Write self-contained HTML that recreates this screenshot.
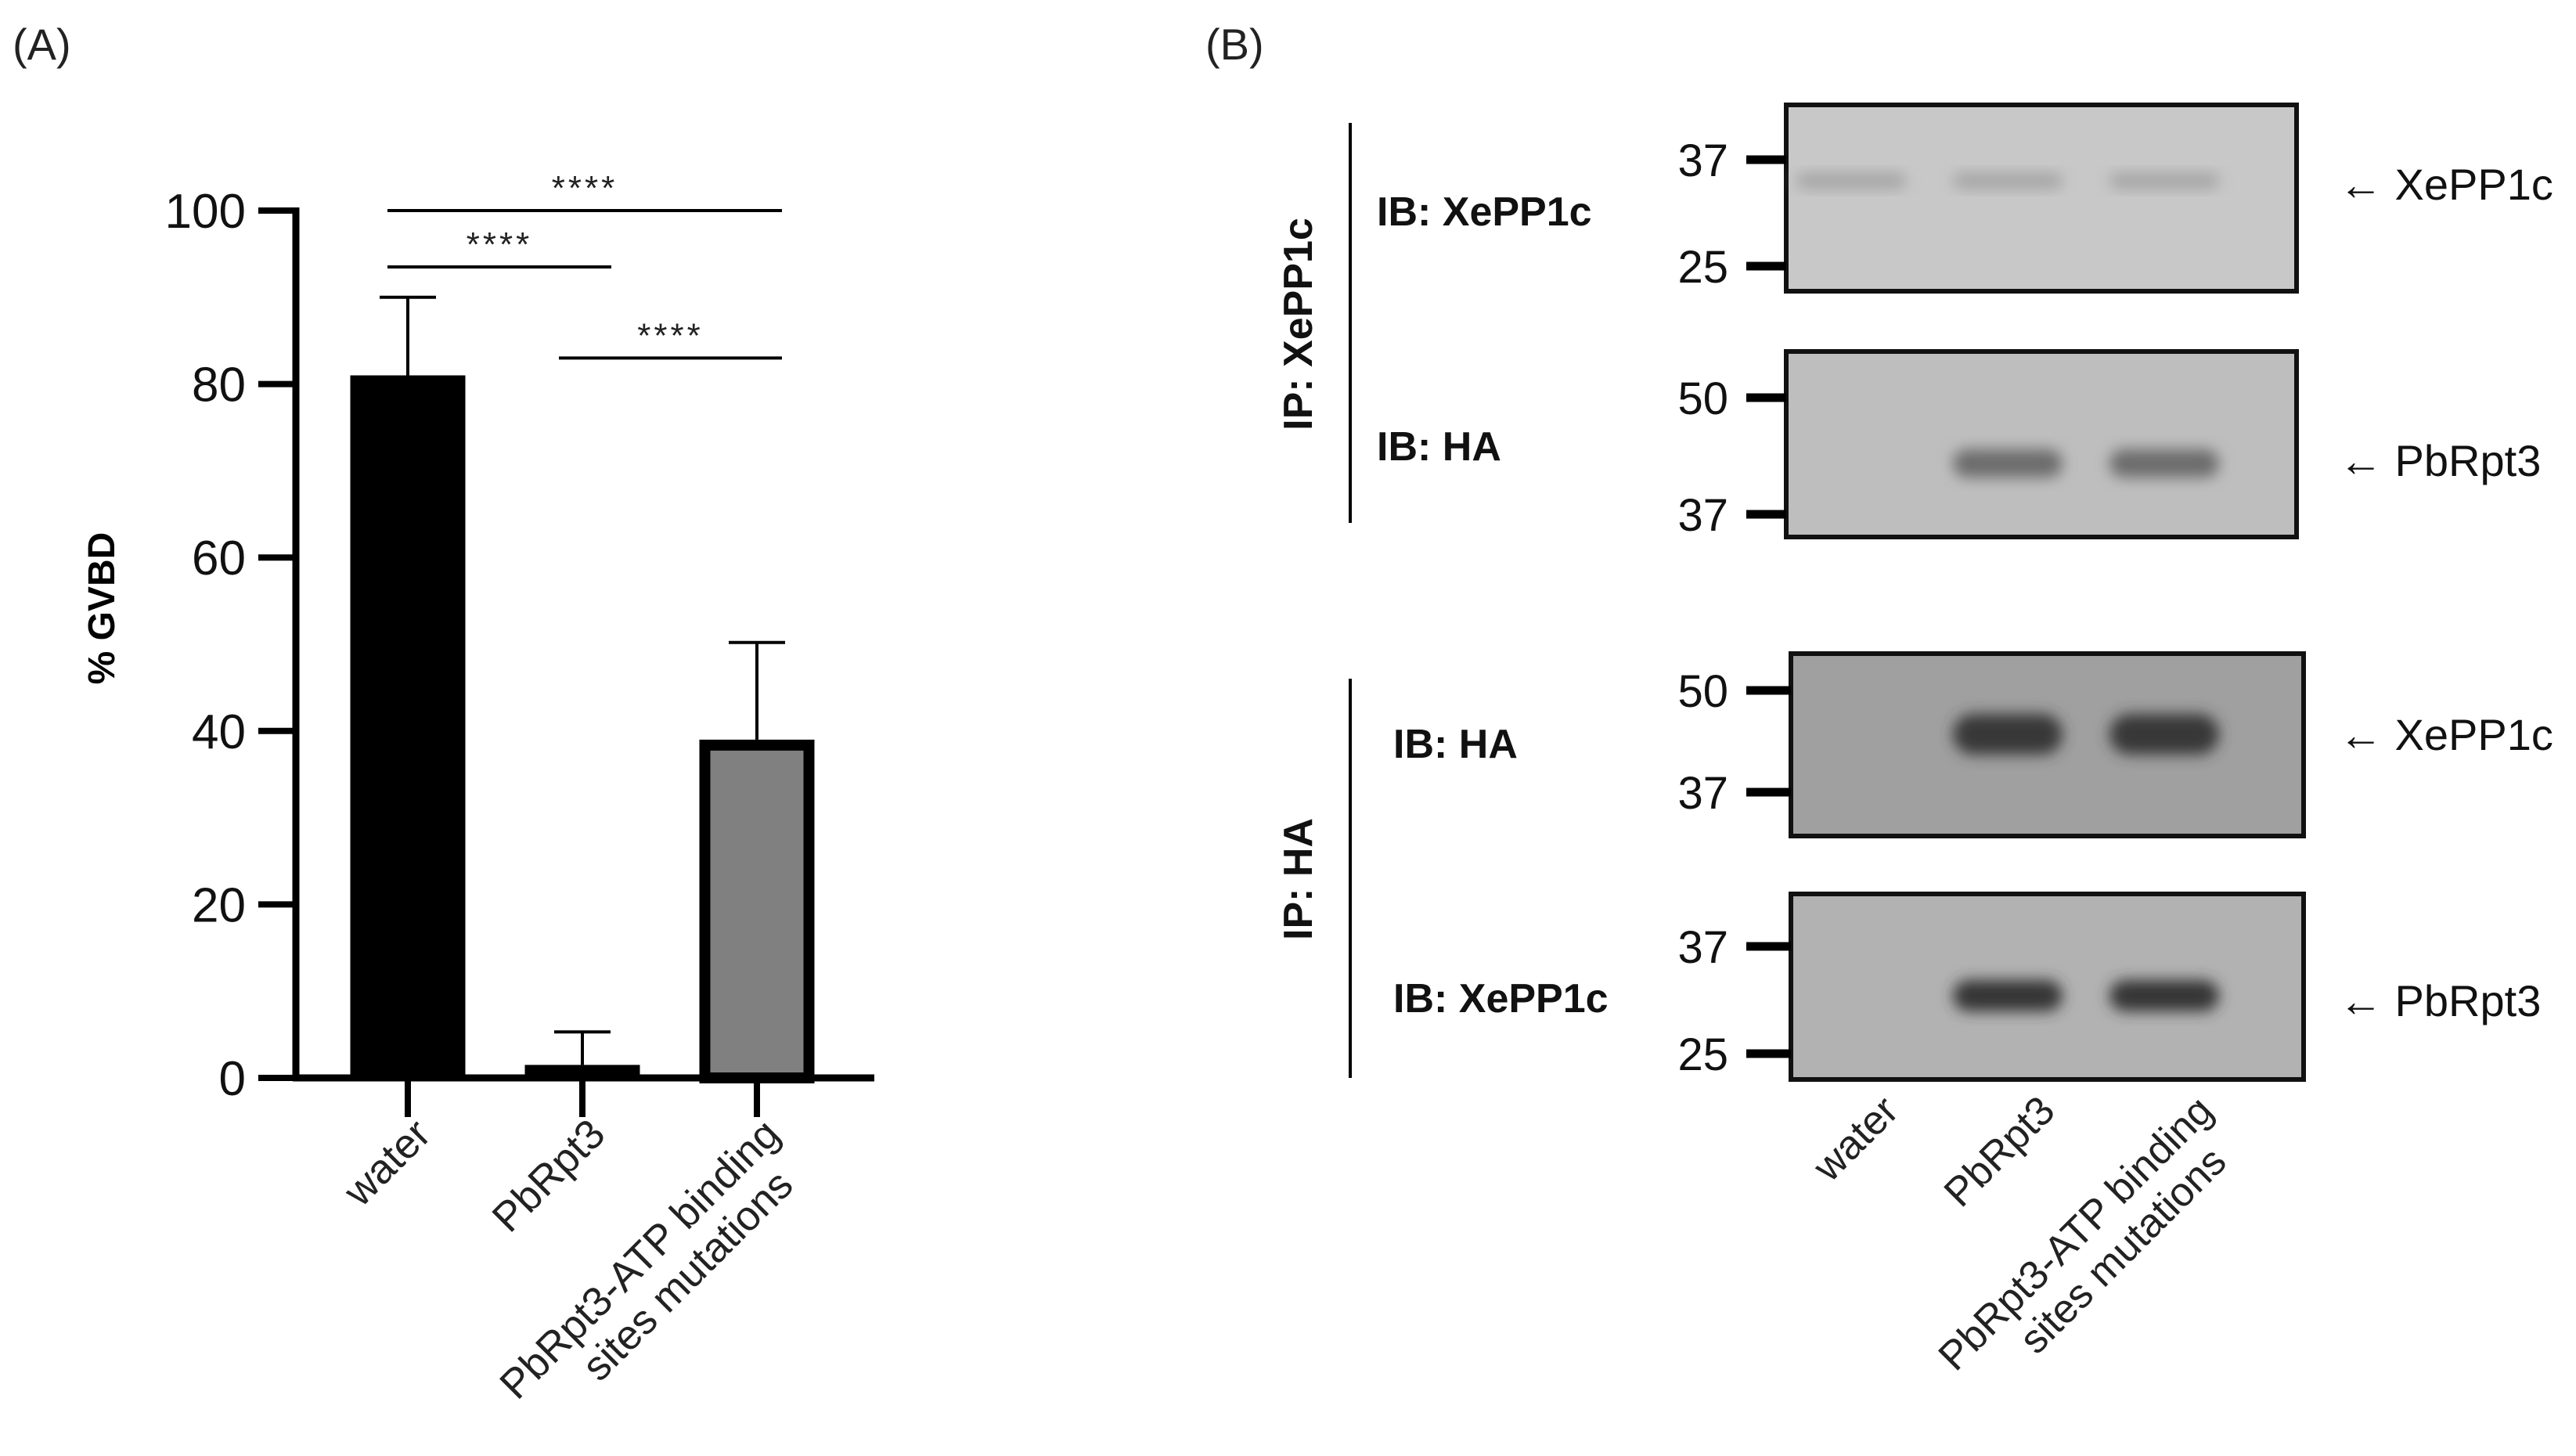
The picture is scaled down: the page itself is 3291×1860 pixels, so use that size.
<!DOCTYPE html>
<html><head><meta charset="utf-8"><style>
html,body{margin:0;padding:0;background:#fff;width:3291px;height:1860px;overflow:hidden}
svg{display:block;font-family:"Liberation Sans","DejaVu Sans",sans-serif}
</style></head><body>
<svg id="fig" width="3291" height="1860" viewBox="0 0 3291 1860">
<defs>
<filter id="blur" x="-20%" y="-50%" width="140%" height="200%"><feGaussianBlur stdDeviation="9"/></filter>
</defs>
<text x="16" y="76" font-size="56" fill="#222">(A)</text>
<text x="1540" y="76" font-size="56" fill="#222">(B)</text>
<g id="chart"></g>
<g id="blots"></g>
</svg>
<script>
const categories = ["water", "PbRpt3", "PbRpt3-ATP binding|sites mutations"];
const means = [81, 1.5, 39];
const errors = [9, 3.8, 11.2];
const yTicks = [0, 20, 40, 60, 80, 100];
const sigFrom = [0, 0, 1];
const sigTo = [2, 1, 2];
const sigHeights = [100, 93.5, 83];
const sigLabels = ["****", "****", "****"];

const NS = "http://www.w3.org/2000/svg";
function el(tag, attrs, parent, txt) {
  const e = document.createElementNS(NS, tag);
  for (const k in attrs) e.setAttribute(k, attrs[k]);
  if (txt !== undefined) e.textContent = txt;
  parent.appendChild(e);
  return e;
}
const chart = document.getElementById("chart");
const y0 = 1377, y100 = 269;
const yS = v => y0 - (v / 100) * (y0 - y100);
const xC = i => 521 + i * 223;
const bw = 147;

let a = el("line", {x1: 378, y1: y100 - 4, x2: 378, y2: y0 + 4, stroke: "#000", "stroke-width": 9}, chart);


a = el("line", {x1: 374, y1: y0, x2: 1117, y2: y0, stroke: "#000", "stroke-width": 9}, chart);


yTicks.forEach(t => {
  const tk = el("line", {x1: 330, y1: yS(t), x2: 378, y2: yS(t), stroke: "#000", "stroke-width": 8}, chart);
  
  
  const tl = el("text", {x: 314, y: yS(t) + 22, "font-size": 62, "text-anchor": "end", fill: "#111"}, chart, String(t));
  
  
});
const yt = el("text", {x: 0, y: 0, "font-size": 48, "font-weight": "bold", "text-anchor": "middle", transform: "translate(146,777) rotate(-90)"}, chart, "% GVBD");



categories.forEach((c, i) => {
  const cx = xC(i);
  const top = yS(means[i] + errors[i]);
  const eb = el("g", {}, chart);
  
  
  el("line", {x1: cx, y1: top, x2: cx, y2: yS(means[i]), stroke: "#000", "stroke-width": 4}, eb);
  el("line", {x1: cx - 36, y1: top, x2: cx + 36, y2: top, stroke: "#000", "stroke-width": 4}, eb);
  let bar;
  if (i === 2) {
    bar = el("rect", {x: cx - bw / 2 + 7, y: yS(means[i]) + 7, width: bw - 14, height: y0 - yS(means[i]) - 7, fill: "#808080", stroke: "#000", "stroke-width": 14}, chart);
  } else {
    bar = el("rect", {x: cx - bw / 2, y: yS(means[i]), width: bw, height: Math.max(y0 - yS(means[i]), 8), fill: "#000"}, chart);
  }
  
  
  const xt = el("line", {x1: cx, y1: y0, x2: cx, y2: 1427, stroke: "#000", "stroke-width": 8}, chart);
  
  
  const lines = c.split("|");
  const lab = el("text", {"font-size": 53, "text-anchor": "end", fill: "#222", transform: `translate(${cx + 32},${1452}) rotate(-45)`}, chart);
  
  
  lines.forEach((ln, k) => el("tspan", {x: k ? -34 : 0, y: k * 58}, lab, ln));
});

sigFrom.forEach((f, k) => {
  const g = el("g", {}, chart);
  
  
  const yy = yS(sigHeights[k]);
  const x1 = f === 0 ? 495 : 714, x2 = sigTo[k] === 2 ? 999 : 781;
  el("line", {x1: x1, y1: yy, x2: x2, y2: yy, stroke: "#000", "stroke-width": 4}, g);
  el("text", {x: (x1 + x2) / 2, y: yy - 14, "font-size": 44, "text-anchor": "middle", fill: "#222", "letter-spacing": 4}, g, sigLabels[k]);
});

const blots = document.getElementById("blots");
const blotTop = [134, 449, 835, 1142];
const blotBottom = [372, 686, 1068, 1379];
const blotLeft = [2282, 2282, 2288, 2288];
const blotRight = [2934, 2934, 2943, 2943];
const blotBg = ["#c8c8c8", "#bebebe", "#a0a0a0", "#b2b2b2"];
const bandColor = ["#a4a4a4", "#6c6c6c", "#383838", "#363636"];
const bandY = [231, 592, 938, 1272];
const bandH = [20, 36, 52, 40];
const bandLanes = [[0, 1, 2], [1, 2], [1, 2], [1, 2]];
const laneX = [2365, 2565, 2765];
const markerTop = ["37", "50", "50", "37"];
const markerTopY = [204, 508, 882, 1209];
const markerBot = ["25", "37", "37", "25"];
const markerBotY = [340, 657, 1012, 1346];
const ibLabels = ["IB: XePP1c", "IB: HA", "IB: HA", "IB: XePP1c"];
const ibY = [269, 569, 949, 1274];
const ibX = [1759, 1759, 1780, 1780];
const arrowLabels = ["XePP1c", "PbRpt3", "XePP1c", "PbRpt3"];
const arrowY = [235, 588, 938, 1278];

for (let b = 0; b < 4; b++) {
  const g = el("g", {}, blots);
  
  
  el("rect", {x: blotLeft[b], y: blotTop[b], width: blotRight[b] - blotLeft[b], height: blotBottom[b] - blotTop[b], fill: blotBg[b], stroke: "#111", "stroke-width": 6}, g);
  bandLanes[b].forEach(l => {
    const bd = el("rect", {x: laneX[l] - 70, y: bandY[b] - bandH[b] / 2, width: 140, height: bandH[b], rx: bandH[b] / 2, fill: bandColor[b], filter: "url(#blur)"}, g);
    
    
  });
  [[markerTop[b], markerTopY[b]], [markerBot[b], markerBotY[b]]].forEach(([t, y]) => {
    el("line", {x1: 2231, y1: y, x2: blotLeft[b], y2: y, stroke: "#000", "stroke-width": 11}, g);
    const mt = el("text", {x: 2208, y: y + 21, "font-size": 58, "text-anchor": "end", fill: "#111"}, g, t);
    
    
  });
  const ib = el("text", {x: ibX[b], y: ibY[b] + 19, "font-size": 52, "font-weight": "bold", fill: "#111"}, blots, ibLabels[b]);
  
  
  const ar = el("text", {x: 2988, y: arrowY[b] + 20, "font-size": 56, fill: "#111"}, blots, "\u2190 " + arrowLabels[b]);
  
  
}
const ipLines = [[157, 668, 414, "IP: XePP1c"], [867, 1377, 1123, "IP: HA"]];
ipLines.forEach(([t, bt, c, txt]) => {
  const g = el("g", {}, blots);
  
  
  el("line", {x1: 1725, y1: t, x2: 1725, y2: bt, stroke: "#000", "stroke-width": 4}, g);
  el("text", {"font-size": 52, "font-weight": "bold", "text-anchor": "middle", fill: "#111", transform: `translate(1676,${c}) rotate(-90)`}, g, txt);
});
const laneLabels = ["water", "PbRpt3", "PbRpt3-ATP binding|sites mutations"];
const laneLabelX = [2428, 2628, 2830];
laneLabels.forEach((c, i) => {
  const lines = c.split("|");
  const lab = el("text", {"font-size": 52, "text-anchor": "end", fill: "#222", transform: `translate(${laneLabelX[i]},${1422}) rotate(-45)`}, blots);
  
  
  lines.forEach((ln, k) => el("tspan", {x: k ? -34 : 0, y: k * 58}, lab, ln));
});
</script>
</body></html>
